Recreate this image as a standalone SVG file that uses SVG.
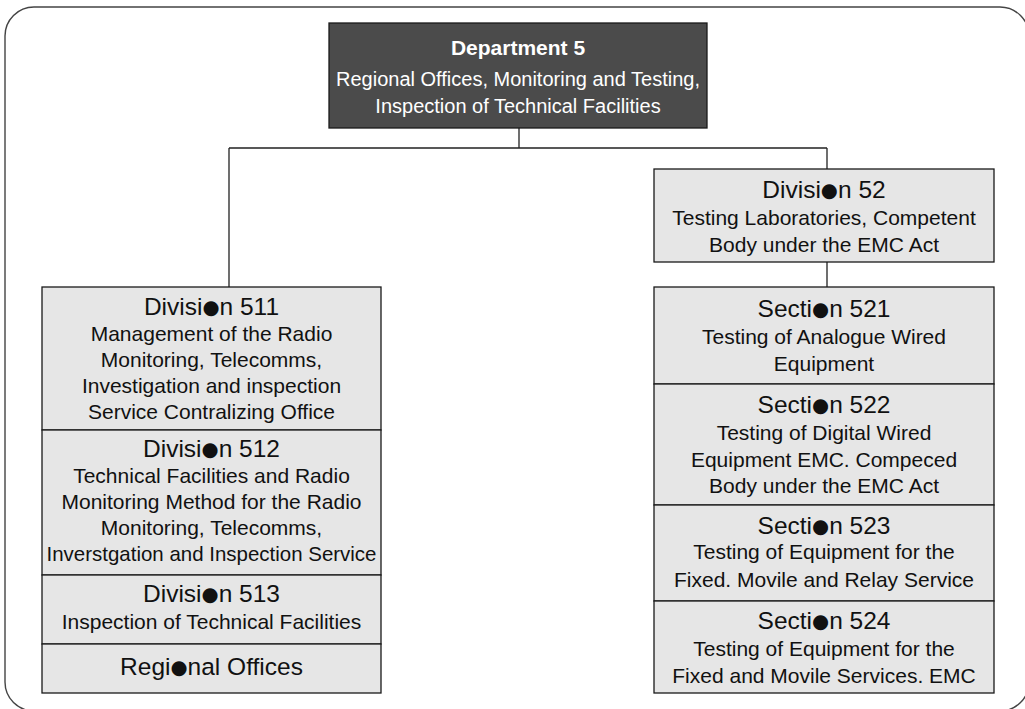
<svg xmlns="http://www.w3.org/2000/svg" width="1025" height="709" viewBox="0 0 1025 709">
<style>
.frame{fill:none;stroke:#444;stroke-width:1.4}
.box{fill:#e6e6e6;stroke:#1a1a1a;stroke-width:1.3}
.dept{fill:#4b4b4b;stroke:#1a1a1a;stroke-width:1.3}
.conn{stroke:#222;stroke-width:1.3;fill:none}
text{font-family:"Liberation Sans",Arial,sans-serif;text-anchor:middle;fill:#111}
.h{font-size:24.5px}
.b{font-size:21px}
.dt{fill:#fff;font-size:21px;font-weight:bold}
.db{fill:#fff;font-size:20px}
.dot{font-family:"DejaVu Sans",sans-serif;font-size:0.8em}
</style>
<rect class="frame" x="5" y="7" width="1024" height="704" rx="29"/>
<g id="connectors">
<path class="conn" d="M519,128V148M229,148H827M229,148V287M827,148V169M827,262V287"/>
</g>
<g id="dept5">
<rect class="dept" x="329" y="23" width="378" height="105"/>
<text class="dt" x="518" y="55">Department 5</text>
<text class="db" x="518" y="86">Regional Offices, Monitoring and Testing,</text>
<text class="db" x="518" y="113">Inspection of Technical Facilities</text>
</g>
<g id="div511">
<rect class="box" x="42" y="287" width="339" height="143"/>
<text class="h" x="211.5" y="315">Divisi<tspan class="dot" dy="-1">●</tspan><tspan dy="1">n 511</tspan></text>
<text class="b" x="211.5" y="341">Management of the Radio</text>
<text class="b" x="211.5" y="367">Monitoring, Telecomms,</text>
<text class="b" x="211.5" y="393">Investigation and inspection</text>
<text class="b" x="211.5" y="419">Service Contralizing Office</text>
</g>
<g id="div512">
<rect class="box" x="42" y="430" width="339" height="145"/>
<text class="h" x="211.5" y="457">Divisi<tspan class="dot" dy="-1">●</tspan><tspan dy="1">n 512</tspan></text>
<text class="b" x="211.5" y="483">Technical Facilities and Radio</text>
<text class="b" x="211.5" y="509">Monitoring Method for the Radio</text>
<text class="b" x="211.5" y="535">Monitoring, Telecomms,</text>
<text class="b" x="211.5" y="561" textLength="330" lengthAdjust="spacingAndGlyphs">Inverstgation and Inspection Service</text>
</g>
<g id="div513">
<rect class="box" x="42" y="575" width="339" height="69"/>
<text class="h" x="211.5" y="602">Divisi<tspan class="dot" dy="-1">●</tspan><tspan dy="1">n 513</tspan></text>
<text class="b" x="211.5" y="629">Inspection of Technical Facilities</text>
</g>
<g id="regional">
<rect class="box" x="42" y="644" width="339" height="49"/>
<text class="h" x="211.5" y="675">Regi<tspan class="dot" dy="-1">●</tspan><tspan dy="1">nal Offices</tspan></text>
</g>
<g id="div52">
<rect class="box" x="654" y="169" width="340" height="93"/>
<text class="h" x="824" y="198">Divisi<tspan class="dot" dy="-1">●</tspan><tspan dy="1">n 52</tspan></text>
<text class="b" x="824" y="225">Testing Laboratories, Competent</text>
<text class="b" x="824" y="252">Body under the EMC Act</text>
</g>
<g id="sec521">
<rect class="box" x="654" y="287" width="340" height="97"/>
<text class="h" x="824" y="317">Secti<tspan class="dot" dy="-1">●</tspan><tspan dy="1">n 521</tspan></text>
<text class="b" x="824" y="344">Testing of Analogue Wired</text>
<text class="b" x="824" y="371">Equipment</text>
</g>
<g id="sec522">
<rect class="box" x="654" y="384" width="340" height="121"/>
<text class="h" x="824" y="413">Secti<tspan class="dot" dy="-1">●</tspan><tspan dy="1">n 522</tspan></text>
<text class="b" x="824" y="440">Testing of Digital Wired</text>
<text class="b" x="824" y="466.5">Equipment EMC. Compeced</text>
<text class="b" x="824" y="493">Body under the EMC Act</text>
</g>
<g id="sec523">
<rect class="box" x="654" y="505" width="340" height="96"/>
<text class="h" x="824" y="534">Secti<tspan class="dot" dy="-1">●</tspan><tspan dy="1">n 523</tspan></text>
<text class="b" x="824" y="559">Testing of Equipment for the</text>
<text class="b" x="824" y="586.5">Fixed. Movile and Relay Service</text>
</g>
<g id="sec524">
<rect class="box" x="654" y="601" width="340" height="92"/>
<text class="h" x="824" y="629">Secti<tspan class="dot" dy="-1">●</tspan><tspan dy="1">n 524</tspan></text>
<text class="b" x="824" y="656">Testing of Equipment for the</text>
<text class="b" x="824" y="683">Fixed and Movile Services. EMC</text>
</g>
</svg>
